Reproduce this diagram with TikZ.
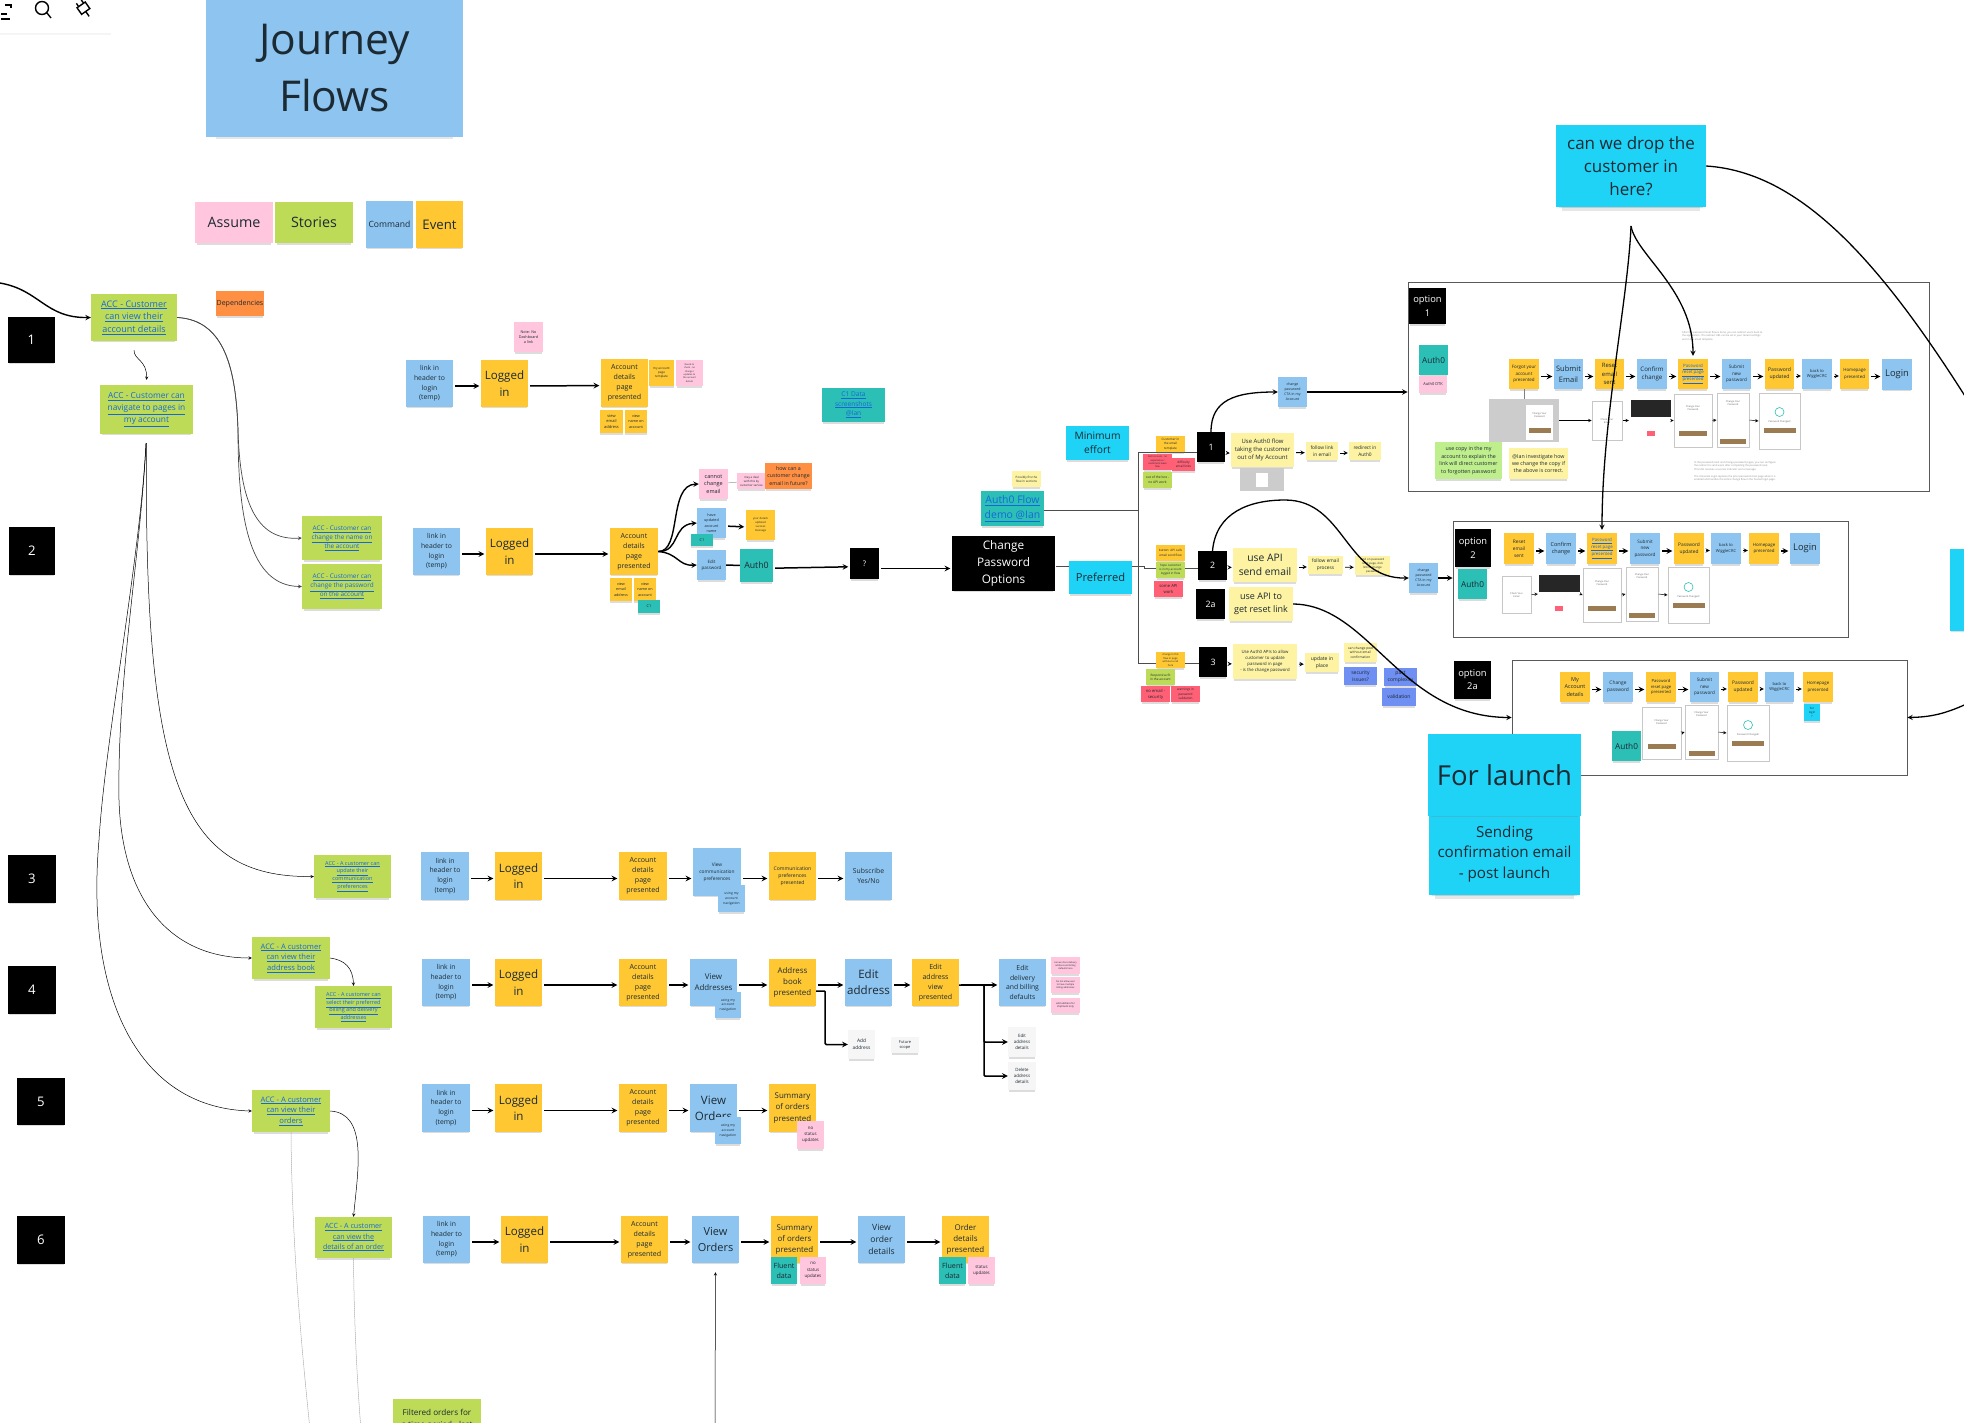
\documentclass[tikz,border=0pt]{standalone}
\usepackage{fontspec}
\setmainfont{Open Sans}
\usetikzlibrary{shadows,backgrounds}

\definecolor{cmdblue}{HTML}{8EC5F0}
\definecolor{evtyellow}{HTML}{FFC833}
\definecolor{assumepink}{HTML}{FFC6DD}
\definecolor{storygreen}{HTML}{BEDB58}
\definecolor{deporange}{HTML}{FF8F42}
\definecolor{datateal}{HTML}{2CBFB6}
\definecolor{launchcyan}{HTML}{1FD3F7}
\definecolor{palenote}{HTML}{FDF3A2}
\definecolor{riskred}{HTML}{FF6075}
\definecolor{issuepurple}{HTML}{6F8FF2}
\definecolor{limegreen}{HTML}{BFEE8C}
\definecolor{scopewhite}{HTML}{F6F6F6}
\definecolor{linkblue}{HTML}{1668D8}
\definecolor{inkdark}{HTML}{1C2A33}
\definecolor{btnbrown}{HTML}{9A7B52}

\newcommand{\acclink}[1]{\textcolor{linkblue}{\underline{#1}}}

\tikzset{
  fs/.style={font=\fontsize{\fpeval{#1*1.1}}{\fpeval{#1*1.55}}\selectfont},
  sz/.style 2 args={minimum width=#1pt, minimum height=#2pt},
  sticky/.style={rectangle, inner sep=0.5pt, align=center, text=inkdark,
    drop shadow={shadow xshift=0pt, shadow yshift=-2.5pt, shadow scale=.96, opacity=.28}},
  bigshade/.style={drop shadow={shadow xshift=0pt, shadow yshift=-8pt, shadow scale=.92, opacity=.2}},
  cmd/.style={sticky, fill=cmdblue},
  evt/.style={sticky, fill=evtyellow},
  assume/.style={sticky, fill=assumepink},
  story/.style={sticky, fill=storygreen},
  depend/.style={sticky, fill=deporange},
  data/.style={sticky, fill=datateal},
  launch/.style={sticky, fill=launchcyan},
  pale/.style={sticky, fill=palenote},
  risk/.style={sticky, fill=riskred},
  issue/.style={sticky, fill=issuepurple},
  scope/.style={sticky, fill=scopewhite},
  tag/.style={sticky, fill=black, text=white},
  frame/.style={rectangle, draw=black!65, line width=0.9pt, fill=white, inner sep=0pt},
  card/.style={rectangle, draw=black!22, line width=1pt, fill=white, inner sep=0pt},
  cardbtn/.style={rectangle, fill=btnbrown, inner sep=0pt, minimum height=5pt},
  cardtxt/.style={inner sep=0pt, align=center, text=black!60, fs=2.2},
  finetxt/.style={inner sep=0pt, align=left, text=black!45, fs=2.3},
  flow/.style={->, line width=1.5pt, shorten <=2pt, shorten >=1.5pt, transform canvas={yshift=-2.5pt}},
  flowsm/.style={->, line width=0.9pt, shorten <=2pt, shorten >=1pt, transform canvas={yshift=-2pt}},
  flowc/.style={->, line width=1.4pt},
  link/.style={->, line width=0.5pt},
  storyline/.style={->, line width=0.7pt, black!72},
  longcurve/.style={->, line width=1.3pt},
  trunk/.style={line width=1pt, black!70},
  faint/.style={line width=0.5pt, black!35, dash pattern=on 1.5pt off 0.5pt},
}

\begin{document}
\begin{tikzpicture}[x=1pt, y=-1pt, >=stealth]
  \useasboundingbox (0,0) rectangle (1964,1422);

  % Toolbar
  \fill[white, drop shadow={shadow xshift=0pt, shadow yshift=-2pt, opacity=.08}] (0,0) rectangle (111,33);
  \draw[line width=1.2pt] (5,5) -- (11,5) -- (11,8) (1,19) -- (10,19) (7,14) -- (1,14);
  \draw[line width=1.4pt] (42,8) circle (6.5) (47,13) -- (51,18);
  \draw[line width=1.4pt, rotate around={35:(84,9)}] (79,4) rectangle (89,12) (84,12) -- (84,18) (81,4) -- (81,0) (87,4) -- (87,0);

  % Option frames
  \node[frame, sz={521}{209}] (optonebox) at (1668.5,386.5) {};
  \node[frame, sz={395}{116}] (opttwobox) at (1650.5,579) {};
  \node[frame, sz={395}{115}] (optthreebox) at (1709.5,717.5) {};

  % Title and legend
  \node[cmd, bigshade, sz={257}{137}, font=\fontsize{42.5}{57}\selectfont] (journey) at (334.5,68.5) {Journey\\Flows};
  \node[assume, sz={78}{41}, fs=13] (legassume) at (234,222.5) {Assume};
  \node[story, sz={78}{41}, fs=13] (legstories) at (314,222.5) {Stories};
  \node[cmd, sz={47}{47}, fs=7.8] (legcommand) at (389.5,224.5) {Command};
  \node[evt, sz={47}{47}, fs=12] (legevent) at (439.5,224.5) {Event};

  % Journey numbers
  \node[tag, sz={47}{46}, fs=12] (numone) at (31.5,340) {1};
  \node[tag, sz={46}{48}, fs=12] (numtwo) at (32,551) {2};
  \node[tag, sz={48}{48}, fs=12] (numthree) at (32,879) {3};
  \node[tag, sz={48}{48}, fs=12] (numfour) at (32,990) {4};
  \node[tag, sz={48}{47}, fs=12] (numfive) at (41,1101.5) {5};
  \node[tag, sz={48}{48}, fs=12] (numsix) at (41,1240) {6};

  % Stories
  \node[story, sz={86}{47}, fs=8.2] (storyview) at (134,317.5) {\acclink{ACC - Customer}\\\acclink{can view their}\\\acclink{account details}};
  \node[story, sz={93}{49}, fs=7.6] (storynav) at (146.5,409.5) {\acclink{ACC - Customer can}\\\acclink{navigate to pages in}\\\acclink{my account}};
  \node[depend, sz={48}{25}, fs=6.4] (depend) at (240,303.5) {Dependencies};
  \node[story, sz={80}{44}, fs=5.8] (storyname) at (342,538) {\acclink{ACC - Customer can}\\\acclink{change the name on}\\\acclink{the account}};
  \node[story, sz={80}{45}, fs=5.8] (storypass) at (342,586.5) {\acclink{ACC - Customer can}\\\acclink{change the password}\\\acclink{on the account}};
  \node[story, sz={77}{43}, fs=5] (storycomms) at (352.5,876.5) {\acclink{ACC - A customer can}\\\acclink{update their}\\\acclink{communication}\\\acclink{preferences}};
  \node[story, sz={78}{42}, fs=6.9] (storybook) at (291,958) {\acclink{ACC - A customer}\\\acclink{can view their}\\\acclink{address book}};
  \node[story, sz={77}{42}, fs=5] (storybilling) at (353.5,1007) {\acclink{ACC - A customer can}\\\acclink{select their preferred}\\\acclink{billing and delivery}\\\acclink{addresses}};
  \node[story, sz={78}{42}, fs=6.9] (storyorders) at (291,1111) {\acclink{ACC - A customer}\\\acclink{can view their}\\\acclink{orders}};
  \node[story, sz={77}{41}, fs=6.5] (storydetails) at (353.5,1237.5) {\acclink{ACC - A customer}\\\acclink{can view the}\\\acclink{details of an order}};
  \node[story, sz={88}{40}, fs=7.4, anchor=north] (storyfilter) at (437,1399) {Filtered orders for\\a time period - last};

  % Row 1
  \node[cmd, sz={47}{47}, fs=6.2] (onelink) at (429.5,383.5) {link in\\header to\\login\\(temp)};
  \node[evt, sz={47}{47}, fs=10.5] (onelogged) at (504.5,383.5) {Logged\\in};
  \node[evt, sz={47}{48}, fs=6.4] (oneacct) at (624.5,383) {Account\\details\\page\\presented};
  \node[evt, sz={25}{26}, fs=2.8] (onetmpl) at (661.5,373) {my account\\page\\template};
  \node[assume, sz={27}{26}, fs=2.1] (onerisk) at (689.5,373) {Needs to\\check - no\\change /\\updates to\\the account\\details};
  \node[evt, sz={23}{23}, fs=3.6] (onemail) at (611.5,421.5) {view\\email\\address};
  \node[evt, sz={22}{23}, fs=3.4] (onename) at (636,421.5) {view\\name on\\account};
  \node[assume, sz={29}{30}, fs=3.4] (onedash) at (528.5,337) {Note: No\\Dashboard\\a link};
  \node[data, sz={63}{34}, fs=6] (cdata) at (853.5,405) {\acclink{C1 Data}\\\acclink{screenshots}\\\acclink{@Ian}};

  % Row 2
  \node[cmd, sz={47}{47}, fs=6.2] (twolink) at (436.5,551.5) {link in\\header to\\login\\(temp)};
  \node[evt, sz={47}{47}, fs=10.5] (twologged) at (509.5,551.5) {Logged\\in};
  \node[evt, sz={48}{47}, fs=6.4] (twoacct) at (634,551.5) {Account\\details\\page\\presented};
  \node[evt, sz={22}{23}, fs=3.4] (twomail) at (621,589.5) {view\\email\\address};
  \node[evt, sz={22}{23}, fs=3.4] (twoname) at (645,589.5) {view\\name on\\account};
  \node[data, sz={22}{13}, fs=3.5] (twocone) at (649,606.5) {C1};
  \node[assume, sz={29}{30}, fs=5] (cannot) at (713.5,484) {cannot\\change\\email};
  \node[assume, sz={29}{16}, fs=2.6] (cannotnote) at (751.5,481) {may a deal\\with this by\\customer service};
  \node[depend, sz={47}{26}, fs=4.8] (cannothow) at (788.5,476) {how can a\\customer change\\email in future?};
  \node[cmd, sz={29}{30}, fs=3.4] (updated) at (711.5,523) {have\\updated\\account\\name};
  \node[data, sz={22}{12}, fs=3.5] (updatedcone) at (702,540) {C1};
  \node[evt, sz={29}{30}, fs=2.5] (updatedevt) at (760.5,525) {your details\\updated\\success\\message};
  \node[cmd, sz={29}{30}, fs=4] (editpass) at (711.5,565) {Edit\\password};
  \node[data, sz={33}{33}, fs=8] (authzero) at (756.5,565.5) {Auth0};
  \node[tag, sz={29}{31}, fs=7] (unknown) at (864.5,563.5) {?};
  \node[tag, sz={103}{55}, fs=10.7] (changeopts) at (1003.5,563.5) {Change\\Password\\Options};
  \node[data, sz={63}{35}, fs=9.5] (flowdemo) at (1012.5,508.5) {\acclink{Auth0 Flow}\\\acclink{demo @Ian}};
  \node[pale, sz={29}{16}, fs=2.7] (flownote) at (1026.5,479) {Possibly fits the\\flow in sections};
  \node[launch, sz={63}{34}, fs=9.3] (minimum) at (1097.5,443) {Minimum\\effort};
  \node[launch, sz={63}{33}, fs=10.1] (preferred) at (1100.5,577.5) {Preferred};

  % Minimum effort branch
  \node[evt, sz={29}{16}, fs=2.8] (minevt) at (1170.5,444) {Customer in\\the email\\template};
  \node[risk, sz={29}{16}, fs=2.2] (minriska) at (1157.5,462) {Not too sure - no\\experience /\\customers leave\\flow};
  \node[risk, sz={23}{13}, fs=2.8] (minriskb) at (1183.5,464.5) {difficulty\\email links};
  \node[story, sz={29}{16}, fs=3] (mingreen) at (1157.5,480) {out of the box -\\no API work};
  \node[tag, sz={28}{30}, fs=8] (pickone) at (1211,447) {1};
  \node[pale, sz={63}{34}, fs=5.4] (pickoneuse) at (1262.5,450) {Use Auth0 flow\\taking the customer\\out of My Account};
  \node[inner sep=0pt, fill=black!20, sz={44}{23}] (pickoneimg) at (1262,479.5) {};
  \node[inner sep=0pt, fill=white, sz={12}{14}] (pickonethumb) at (1262,480) {};
  \node[pale, sz={32}{18}, fs=4.4] (pickonelink) at (1322,451) {follow link\\in email};
  \node[pale, sz={32}{18}, fs=4.4] (pickoneauth) at (1365,451) {redirect in\\Auth0};
  \node[cmd, sz={29}{30}, fs=3.2] (pickonepass) at (1292.5,392) {change\\password\\CTA in my\\Account};

  % Preferred branch
  \node[evt, sz={29}{16}, fs=2.8] (prefevt) at (1170.5,553) {button: API calls\\email send flow};
  \node[story, sz={29}{16}, fs=2.7] (prefgreen) at (1170.5,570) {hope customer\\is in my account\\logged in flow};
  \node[risk, sz={29}{16}, fs=3.8] (prefrisk) at (1168.5,589) {some API\\work};
  \node[tag, sz={29}{29}, fs=8] (picktwo) at (1212.5,565.5) {2};
  \node[pale, sz={64}{34}, fs=9.4] (picktwouse) at (1265,565) {use API\\send email};
  \node[pale, sz={35}{18}, fs=4.4] (picktwomail) at (1325.5,565) {follow email\\process};
  \node[pale, sz={35}{19}, fs=2.6] (picktwonext) at (1372.5,565.5) {land on password\\reset page, click\\link to change\\password};
  \node[tag, sz={29}{30}, fs=8] (pickreset) at (1210.5,604) {2a};
  \node[pale, sz={64}{34}, fs=8.2] (pickresetuse) at (1261,604) {use API to\\get reset link};
  \node[cmd, sz={29}{30}, fs=3.2] (picktwopass) at (1423.5,578) {change\\password\\CTA in my\\Account};

  % Option 3 branch
  \node[evt, sz={29}{16}, fs=2.3] (prefevtb) at (1170.5,660) {change in this\\flow in page\\without a call\\here};
  \node[story, sz={29}{16}, fs=2.8] (prefgreenb) at (1160.5,677) {Responsive fit\\in the account};
  \node[risk, sz={29}{16}, fs=3.8] (prefriska) at (1155.5,694) {no email -\\security};
  \node[risk, sz={29}{16}, fs=2.8] (prefriskb) at (1185.5,694) {warnings in\\password\\validation};
  \node[tag, sz={28}{30}, fs=8] (pickthree) at (1213,662) {3};
  \node[pale, sz={64}{35}, fs=3.9] (pickthreeuse) at (1265,661.5) {Use Auth0 APIs to allow\\customer to update\\password in page\\- is the change password};
  \node[pale, sz={34}{19}, fs=4.6] (pickthreeplace) at (1322,662.5) {update in\\place};
  \node[pale, sz={33}{19}, fs=3] (pickthreeair) at (1360.5,652.5) {can change pwd\\without email\\confirmation};
  \node[issue, sz={33}{18}, fs=4.6] (issuesec) at (1360.5,676) {security\\issues?};
  \node[issue, sz={33}{18}, fs=4.6] (issuepast) at (1400.5,677) {past\\complexity};
  \node[issue, sz={34}{18}, fs=4.6] (issuevalid) at (1399,697) {validation};

  % Option 1 stickies
  \node[tag, sz={37}{36}, fs=8.5] (optonetag) at (1427.5,306) {option\\1};
  \node[data, sz={29}{30}, fs=7.5] (optoneauth) at (1433.5,360) {Auth0};
  \node[assume, sz={28}{17}, fs=3.6] (optonedtk) at (1433,384.5) {Auth0 DTK};
  \node[evt, sz={30}{30}, fs=4.1] (oaforgot) at (1524,374) {Forgot your\\account\\presented};
  \node[cmd, sz={29}{30}, fs=6.8] (oasubmit) at (1568.5,374) {Submit\\Email};
  \node[evt, sz={29}{30}, fs=5.4] (oasent) at (1609.5,374) {Reset\\email\\sent};
  \node[cmd, sz={30}{30}, fs=5.6] (oaconfirm) at (1652,374) {Confirm\\change};
  \node[evt, sz={30}{30}, fs=4] (oareset) at (1693,374) {\acclink{Password}\\\acclink{reset page}\\\acclink{presented}};
  \node[cmd, sz={29}{30}, fs=4.2] (oanew) at (1736.5,374) {Submit\\new\\password};
  \node[evt, sz={29}{30}, fs=4.6] (oaupdated) at (1779.5,374) {Password\\updated};
  \node[cmd, sz={30}{30}, fs=3.7] (oaback) at (1817,374) {back to\\WiggleCRC};
  \node[evt, sz={29}{30}, fs=4] (oahome) at (1854.5,374) {Homepage\\presented};
  \node[cmd, sz={30}{31}, fs=8.5] (oalogin) at (1897,374) {Login};

  % Option 1 screens
  \node[inner sep=0pt, fill=black!20, sz={70}{43}] (oascrgrey) at (1524,420.5) {};
  \node[card, draw=none, sz={27}{35}] (oascrone) at (1539.5,422.5) {};
  \node[cardtxt] (oascronet) at (1539.5,415) {Change Your\\Password};
  \node[cardbtn, minimum width=22pt] (oascroneb) at (1539.5,430) {};
  \node[card, sz={30}{39}] (oascrtwo) at (1607,420.5) {};
  \node[cardtxt] (oascrtwot) at (1607,421) {Check Your\\Email};
  \node[inner sep=0pt, fill=white, sz={43}{49}] (oascrthree) at (1650.5,420.5) {};
  \node[inner sep=0pt, fill=black!85, text=white, sz={40}{17}, fs=2.2] (oascrband) at (1650.5,408.5) {};
  \node[cardbtn, fill=riskred, minimum width=8pt] (oascrred) at (1650.5,433) {};
  \node[card, sz={38}{53}] (oascrfour) at (1693,420.5) {};
  \node[cardtxt] (oascrfourt) at (1693,408) {Change Your\\Password};
  \node[cardbtn, minimum width=28pt] (oascrfourb) at (1693,433) {};
  \node[card, sz={32}{54}] (oascrfive) at (1733,420) {};
  \node[cardtxt] (oascrfivet) at (1733,403) {Change Your\\Password};
  \node[cardbtn, minimum width=26pt] (oascrfiveb) at (1733,441) {};
  \node[card, sz={41}{56}] (oascrsix) at (1779.5,421) {};
  \node[circle, draw=datateal, line width=0.6pt, minimum size=9pt, inner sep=0pt] (oascrcheck) at (1779.5,412) {};
  \node[cardtxt] (oascrsixt) at (1779.5,422) {Password Changed!};
  \node[cardbtn, minimum width=32pt] (oascrsixb) at (1779.5,430) {};

  % Option 1 notes
  \node[sticky, fill=limegreen, sz={67}{37}, fs=4.8] (optonecopy) at (1468.5,460.5) {use copy in the my\\account to explain the\\link will direct customer\\to forgotten password};
  \node[pale, sz={59}{31}, fs=4.8] (optoneian) at (1538.5,463.5) {@Ian investigate how\\we change the copy if\\the above is correct.};
  \node[finetxt, anchor=north west] (optonefinea) at (1682,331) {After the password reset flow is done, you can redirect users back to\\the application. The redirect URL can be set in your tenant settings\\and in the email template.};
  \node[finetxt, anchor=north west] (optonefineb) at (1694,461) {In the password reset and change password pages, you can configure\\the redirect to send users after completing the password reset.\\This URL receives a success indicator and a message.\\\\The Universal Login replaces the prior password reset page when it is\\enabled and handles the entire change flow in the hosted login page.};

  % Option 2 stickies
  \node[tag, sz={36}{38}, fs=8.5] (opttwotag) at (1473,548) {option\\2};
  \node[data, sz={29}{30}, fs=7.5] (opttwoauth) at (1472.5,584) {Auth0};
  \node[evt, sz={30}{31}, fs=4.4] (obsent) at (1519,548.5) {Reset\\email\\sent};
  \node[cmd, sz={30}{31}, fs=5] (obconfirm) at (1561,548.5) {Confirm\\change};
  \node[evt, sz={30}{31}, fs=4] (obreset) at (1602,548.5) {\acclink{Password}\\\acclink{reset page}\\\acclink{presented}};
  \node[cmd, sz={30}{31}, fs=4.2] (obnew) at (1645,548.5) {Submit\\new\\password};
  \node[evt, sz={30}{31}, fs=4.4] (obupdated) at (1689,548.5) {Password\\updated};
  \node[cmd, sz={30}{31}, fs=3.7] (obback) at (1726,548.5) {back to\\WiggleCRC};
  \node[evt, sz={30}{31}, fs=4] (obhome) at (1764,548.5) {Homepage\\presented};
  \node[cmd, sz={30}{31}, fs=8.5] (oblogin) at (1805,548.5) {Login};

  % Option 2 screens
  \node[card, sz={29}{37}] (obscrone) at (1516.5,594.5) {};
  \node[cardtxt] (obscronet) at (1516.5,595) {Check Your\\Email};
  \node[inner sep=0pt, fill=white, sz={42}{48}] (obscrtwo) at (1559,594) {};
  \node[inner sep=0pt, fill=black!85, sz={41}{17}] (obscrband) at (1559,583) {};
  \node[cardbtn, fill=riskred, minimum width=8pt] (obscrred) at (1559,608) {};
  \node[card, sz={38}{54}] (obscrthree) at (1602,595) {};
  \node[cardtxt] (obscrthreet) at (1602,583) {Change Your\\Password};
  \node[cardbtn, minimum width=28pt] (obscrthreeb) at (1602,608) {};
  \node[card, sz={32}{54}] (obscrfour) at (1642,594) {};
  \node[cardtxt] (obscrfourt) at (1642,576) {Change Your\\Password};
  \node[cardbtn, minimum width=26pt] (obscrfourb) at (1642,615) {};
  \node[card, sz={41}{56}] (obscrfive) at (1688.5,595) {};
  \node[circle, draw=datateal, line width=0.6pt, minimum size=9pt, inner sep=0pt] (obscrcheck) at (1688.5,587) {};
  \node[cardtxt] (obscrfivet) at (1688.5,597) {Password Changed!};
  \node[cardbtn, minimum width=32pt] (obscrfiveb) at (1688.5,605) {};

  % Option 2a stickies
  \node[tag, sz={37}{38}, fs=8.5] (optresettag) at (1472.5,680) {option\\2a};
  \node[evt, sz={30}{30}, fs=5] (ocaccount) at (1575,687) {My\\Account\\details};
  \node[cmd, sz={30}{30}, fs=4.4] (occhange) at (1618,687) {Change\\password};
  \node[evt, sz={30}{30}, fs=3.8] (ocreset) at (1661,687) {Password\\reset page\\presented};
  \node[cmd, sz={29}{30}, fs=4.2] (ocnew) at (1704.5,687) {Submit\\new\\password};
  \node[evt, sz={30}{30}, fs=4.4] (ocupdated) at (1743,687) {Password\\updated};
  \node[cmd, sz={29}{30}, fs=3.7] (ocback) at (1779.5,687) {back to\\WiggleCRC};
  \node[evt, sz={30}{30}, fs=4] (ochome) at (1818,687) {Homepage\\presented};
  \node[launch, sz={16}{17}, fs=2.6] (ochometag) at (1812,712.5) {For\\login\\?};
  \node[data, sz={29}{30}, fs=7.5] (ocauth) at (1626.5,746) {Auth0};

  % Option 2a screens
  \node[card, sz={39}{52}] (ocscrone) at (1661.5,733) {};
  \node[cardtxt] (ocscronet) at (1661.5,722) {Change Your\\Password};
  \node[cardbtn, minimum width=28pt] (ocscroneb) at (1661.5,746) {};
  \node[card, sz={33}{54}] (ocscrtwo) at (1701.5,732) {};
  \node[cardtxt] (ocscrtwot) at (1701.5,714) {Change Your\\Password};
  \node[cardbtn, minimum width=26pt] (ocscrtwob) at (1701.5,753) {};
  \node[card, sz={42}{56}] (ocscrthree) at (1748,733) {};
  \node[circle, draw=datateal, line width=0.6pt, minimum size=9pt, inner sep=0pt] (ocscrcheck) at (1748,725) {};
  \node[cardtxt] (ocscrthreet) at (1748,735) {Password Changed!};
  \node[cardbtn, minimum width=32pt] (ocscrthreeb) at (1748,743) {};

  % Launch notes
  \node[launch, bigshade, sz={150}{82}, font=\fontsize{17}{23}\selectfont] (candrop) at (1631,166) {can we drop the\\customer in\\here?};
  \node[launch, bigshade, sz={151}{82}, font=\fontsize{15.2}{20.5}\selectfont] (postlaunch) at (1504.5,854) {Sending\\confirmation email\\- post launch};
  \node[launch, sz={153}{82}, font=\fontsize{27.5}{30}\selectfont] (forlaunch) at (1504.5,775) {For launch};
  \node[launch, sz={30}{82}] (edgelaunch) at (1965,590) {};

  % Row 3
  \node[cmd, sz={48}{48}, fs=6.2] (threelink) at (445,876) {link in\\header to\\login\\(temp)};
  \node[evt, sz={47}{48}, fs=10.5] (threelogged) at (518.5,876) {Logged\\in};
  \node[evt, sz={48}{48}, fs=6.4] (threeacct) at (643,876) {Account\\details\\page\\presented};
  \node[cmd, sz={48}{48}, fs=4.4] (threeview) at (717,872) {View\\communication\\preferences};
  \node[cmd, sz={27}{27}, fs=3.1] (threenav) at (731.5,898.5) {using my\\account\\navigation};
  \node[evt, sz={47}{48}, fs=4.6] (threepref) at (792.5,876) {Communication\\preferences\\presented};
  \node[cmd, sz={47}{48}, fs=6.2] (threesub) at (868.5,876) {Subscribe\\Yes/No};

  % Row 4
  \node[cmd, sz={48}{47}, fs=6.2] (fourlink) at (446,982.5) {link in\\header to\\login\\(temp)};
  \node[evt, sz={47}{47}, fs=10.5] (fourlogged) at (518.5,982.5) {Logged\\in};
  \node[evt, sz={48}{47}, fs=6.4] (fouracct) at (643,982.5) {Account\\details\\page\\presented};
  \node[cmd, sz={47}{47}, fs=7.2] (fourview) at (713.5,982.5) {View\\Addresses};
  \node[cmd, sz={26}{26}, fs=3.1] (fournav) at (728,1005) {using my\\account\\navigation};
  \node[evt, sz={47}{47}, fs=7.2] (fourbook) at (792.5,982.5) {Address\\book\\presented};
  \node[cmd, sz={47}{47}, fs=10.5] (fouredit) at (868.5,982.5) {Edit\\address};
  \node[evt, sz={47}{47}, fs=6.4] (fourform) at (935.5,982.5) {Edit\\address\\view\\presented};
  \node[cmd, sz={47}{47}, fs=6.2] (fourdefault) at (1022.5,982.5) {Edit\\delivery\\and billing\\defaults};
  \node[assume, sz={29}{17}, fs=2.1] (fourpinka) at (1065.5,965.5) {can we store delivery\\address and billing\\defaults here};
  \node[assume, sz={29}{16}, fs=2.1] (fourpinkb) at (1065.5,985) {Do not allow user\\to have multiple\\billing addresses};
  \node[assume, sz={29}{15}, fs=2.3] (fourpinkc) at (1065.5,1005.5) {add address for\\shipment only};
  \node[scope, sz={27}{29}, fs=4.4] (fouradd) at (861.5,1044.5) {Add\\address};
  \node[scope, sz={28}{16}, fs=3.6] (fourfuture) at (905,1045) {Future\\scope};
  \node[scope, sz={28}{30}, fs=4] (fouredetail) at (1022,1042) {Edit\\address\\details};
  \node[scope, sz={28}{28}, fs=4] (fourddetail) at (1022,1076) {Delete\\address\\details};

  % Row 5
  \node[cmd, sz={48}{48}, fs=6.2] (fivelink) at (446,1108) {link in\\header to\\login\\(temp)};
  \node[evt, sz={47}{48}, fs=10.5] (fivelogged) at (518.5,1108) {Logged\\in};
  \node[evt, sz={48}{48}, fs=6.4] (fiveacct) at (643,1108) {Account\\details\\page\\presented};
  \node[cmd, sz={47}{48}, fs=10.5] (fiveview) at (713.5,1108) {View\\Orders};
  \node[cmd, sz={26}{27}, fs=3.1] (fivenav) at (728,1130.5) {using my\\account\\navigation};
  \node[evt, sz={47}{48}, fs=7.2] (fivesum) at (792.5,1108) {Summary\\of orders\\presented};
  \node[assume, sz={27}{28}, fs=4] (fivenote) at (810.5,1135) {no\\status\\updates};

  % Row 6
  \node[cmd, sz={47}{47}, fs=6.2] (sixlink) at (446.5,1239.5) {link in\\header to\\login\\(temp)};
  \node[evt, sz={47}{47}, fs=10.5] (sixlogged) at (524.5,1239.5) {Logged\\in};
  \node[evt, sz={47}{47}, fs=6.4] (sixacct) at (644.5,1239.5) {Account\\details\\page\\presented};
  \node[cmd, sz={47}{47}, fs=10] (sixview) at (715.5,1239.5) {View\\Orders};
  \node[evt, sz={47}{47}, fs=7.2] (sixsum) at (794.5,1239.5) {Summary\\of orders\\presented};
  \node[data, sz={26}{27}, fs=6.5] (sixfluent) at (784,1270.5) {Fluent\\data};
  \node[assume, sz={26}{27}, fs=4] (sixnote) at (813,1270.5) {no\\status\\updates};
  \node[cmd, sz={47}{47}, fs=7.8] (sixorder) at (881.5,1239.5) {View\\order\\details};
  \node[evt, sz={47}{47}, fs=7.2] (sixdetail) at (965.5,1239.5) {Order\\details\\presented};
  \node[data, sz={27}{27}, fs=6.5] (sixfluentb) at (952.5,1270.5) {Fluent\\data};
  \node[assume, sz={27}{27}, fs=4] (sixnoteb) at (981.5,1270.5) {status\\updates};

  % Free ends
  \coordinate (topin) at (0,283);
  \coordinate (dropfoot) at (1631,226);
  \coordinate (offright) at (1975,412);
  \coordinate (offrightb) at (1975,700);
  \coordinate (upfoot) at (715,1430);
  \coordinate (trunkmid) at (1138,510);
  \coordinate (trunktop) at (1138,452);
  \coordinate (trunkbot) at (1138,663);
  \coordinate (prefbend) at (1144,566);
  \coordinate (prefleft) at (1056,566);
  \coordinate (fadeone) at (310,1430);
  \coordinate (fadetwo) at (361,1430);
  \coordinate (editbend) at (984,985);

  % Sector lines behind the small stickies
  \begin{scope}[on background layer]
    \draw[trunk] (flowdemo.east |- trunkmid) -- (trunkmid);
    \draw[trunk] (pickone.west |- trunktop) -- (trunktop) -- (trunkbot) -- (pickthree.west |- trunkbot);
    \draw[trunk] (prefleft) -- (preferred.west |- prefleft);
    \draw[trunk] (preferred.east |- prefbend) -- (prefbend) -- ++(0,2) -- (picktwo.west |- 0,568);
  \end{scope}
  \draw[black!50, line width=0.5pt] (oaforgot.south) -- (oaforgot.south |- oascrgrey.north);

  % Story connectors
  \draw[->, line width=1.4pt] (topin) .. controls (40,290) and (45,318) .. (storyview.west);
  \draw[link, shorten <=9pt, shorten >=5pt] (storyview.south) .. controls (134,360) and (147,360) .. (storynav.north);
  \draw[storyline] (storyview.east) .. controls (225,320) and (236,370) .. (238,430) .. controls (240,500) and (255,541) .. (storyname.west);
  \draw[storyline] (storyview.east) .. controls (225,320) and (236,370) .. (238,430) .. controls (238,520) and (250,586) .. (storypass.west);
  \draw[link, shorten <=9pt] (storynav.south) .. controls (144,780) and (180,878) .. (storycomms.west);
  \draw[link, shorten <=9pt] (storynav.south) .. controls (140,560) and (117,680) .. (119,800) .. controls (122,900) and (170,958) .. (storybook.west);
  \draw[link, shorten <=9pt] (storynav.south) .. controls (140,560) and (105,740) .. (99,840) .. controls (85,1000) and (140,1108) .. (storyorders.west);
  \draw[link] (storybook.east) .. controls (345,960) and (353,968) .. (storybilling.north);
  \draw[link] (storyorders.east) .. controls (368,1113) and (358,1170) .. (storydetails.north);
  \draw[faint] (storyorders.south) .. controls (292,1250) and (302,1350) .. (fadeone);
  \draw[faint] (storydetails.south) .. controls (354,1320) and (357,1380) .. (fadetwo);

  % Row flows
  \draw[flow] (onelink) -- (onelogged);
  \draw[flow] (onelogged) -- (oneacct);
  \draw[flow] (twolink) -- (twologged);
  \draw[flow] (twologged) -- (twoacct);
  \draw[flowc] (twoacct.east) .. controls (682,552) and (668,485) .. (cannot.west);
  \draw[flowc] (twoacct.east) .. controls (680,552) and (672,525) .. (updated.west);
  \draw[flowc] (twoacct.east) .. controls (678,553) and (678,566) .. (editpass.west);
  \draw[black!40, line width=0.5pt] (cannot) -- (cannotnote);
  \draw[flow, transform canvas={yshift=0pt}] (updated) -- (updatedevt);
  \draw[line width=1.5pt] (editpass) -- (authzero);
  \draw[flow, transform canvas={yshift=-0.5pt}] (authzero) -- (unknown);
  \draw[flow, transform canvas={yshift=-2.5pt}] (unknown) -- (changeopts);
  \draw[flowsm, transform canvas={yshift=-3pt}] (pickone) -- (pickoneuse);
  \draw[flowsm] (pickoneuse) -- (pickonelink);
  \draw[flowsm] (pickonelink) -- (pickoneauth);
  \draw[flowsm] (picktwo) -- (picktwouse);
  \draw[flowsm] (picktwouse) -- (picktwomail);
  \draw[flowsm] (picktwomail) -- (picktwonext);
  \draw[flowsm] (pickthree) -- (pickthreeuse);
  \draw[flowsm] (pickthreeuse) -- (pickthreeplace);

  \draw[flow] (threelink) -- (threelogged);
  \draw[flow] (threelogged) -- (threeacct);
  \draw[flow] (threeacct) -- (threeview.west |- threeacct);
  \draw[flow] (threeview.east |- threepref) -- (threepref);
  \draw[flow] (threepref) -- (threesub);
  \draw[flow] (fourlink) -- (fourlogged);
  \draw[flow] (fourlogged) -- (fouracct);
  \draw[flow] (fouracct) -- (fourview);
  \draw[flow] (fourview) -- (fourbook);
  \draw[flow] (fourbook) -- (fouredit);
  \draw[flow] (fouredit) -- (fourform);
  \draw[flow] (fourform) -- (fourdefault);
  \draw[->, line width=1.5pt, rounded corners=1pt] ([yshift=-8.5pt]fourbook.east) -- ++(9,0) |- (fouradd.west);
  \draw[->, line width=1.5pt, rounded corners=1pt] (fourform.east |- editbend) -- (editbend) |- (fouredetail.west);
  \draw[->, line width=1.5pt, rounded corners=1pt] (editbend) |- (fourddetail.west);
  \draw[flow] (fivelink) -- (fivelogged);
  \draw[flow] (fivelogged) -- (fiveacct);
  \draw[flow] (fiveacct) -- (fiveview);
  \draw[flow] (fiveview) -- (fivesum);
  \draw[flow] (sixlink) -- (sixlogged);
  \draw[flow] (sixlogged) -- (sixacct);
  \draw[flow] (sixacct) -- (sixview);
  \draw[flow] (sixview) -- (sixsum);
  \draw[flow] (sixsum) -- (sixorder);
  \draw[flow] (sixorder) -- (sixdetail);
  \draw[link, shorten >=9pt] (upfoot) -- (sixview.south);

  % Option flows
  \draw[flow] (oaforgot) -- (oasubmit);
  \draw[flow] (oasubmit) -- (oasent);
  \draw[flow] (oasent) -- (oaconfirm);
  \draw[flow] (oaconfirm) -- (oareset);
  \draw[flow] (oareset) -- (oanew);
  \draw[flow] (oanew) -- (oaupdated);
  \draw[flowsm] (oaupdated) -- (oaback);
  \draw[flowsm] (oaback) -- (oahome);
  \draw[flow] (oahome) -- (oalogin);
  \draw[link] (oascrgrey.east) -- (oascrtwo.west);
  \draw[link] (oascrtwo.east) -- (oascrthree.west);
  \draw[link] (oascrthree.east) -- (oascrfour.west);
  \draw[link] (oascrfour.east) -- (oascrfive.west);
  \draw[link] (oascrfive.east) -- (oascrsix.west);
  \draw[flow] (obsent) -- (obconfirm);
  \draw[flow] (obconfirm) -- (obreset);
  \draw[flow] (obreset) -- (obnew);
  \draw[flow] (obnew) -- (obupdated);
  \draw[flowsm] (obupdated) -- (obback);
  \draw[flowsm] (obback) -- (obhome);
  \draw[flow] (obhome) -- (oblogin);
  \draw[link] (obscrone.east) -- (obscrtwo.west);
  \draw[link] (obscrtwo.east) -- (obscrthree.west);
  \draw[link] (obscrthree.east) -- (obscrfour.west);
  \draw[link] (obscrfour.east) -- (obscrfive.west);
  \draw[flow] (ocaccount) -- (occhange);
  \draw[flow] (occhange) -- (ocreset);
  \draw[flow] (ocreset) -- (ocnew);
  \draw[flowsm] (ocnew) -- (ocupdated);
  \draw[flowsm] (ocupdated) -- (ocback);
  \draw[flowsm] (ocback) -- (ochome);
  \draw[link] (ocscrone.east) -- (ocscrtwo.west);
  \draw[link] (ocscrtwo.east) -- (ocscrthree.west);

  % Long curves across the options
  \draw[longcurve] (pickone.north) .. controls (1211,400) and (1235,392) .. (pickonepass.west);
  \draw[flowc] (pickonepass.east) -- (optonebox.west |- pickonepass);
  \draw[longcurve] (picktwo.north) .. controls (1216,512) and (1250,500) .. (1285,500) .. controls (1345,500) and (1345,579) .. (picktwopass.west);
  \draw[flowc] (picktwopass.east) -- (opttwobox.west |- picktwopass);
  \draw[longcurve] (pickresetuse.east) .. controls (1370,605) and (1400,717) .. (optthreebox.west);
  \draw[longcurve, shorten >=3pt] (dropfoot) .. controls (1628,300) and (1602,420) .. (obreset.north);
  \draw[longcurve, shorten >=3pt] (dropfoot) .. controls (1636,255) and (1693,290) .. (oareset.north);
  \draw[longcurve] (candrop.east) .. controls (1800,172) and (1880,260) .. (offright);
  \draw[longcurve] (offrightb) .. controls (1950,712) and (1935,717) .. (optthreebox.east);
\end{tikzpicture}
\end{document}
